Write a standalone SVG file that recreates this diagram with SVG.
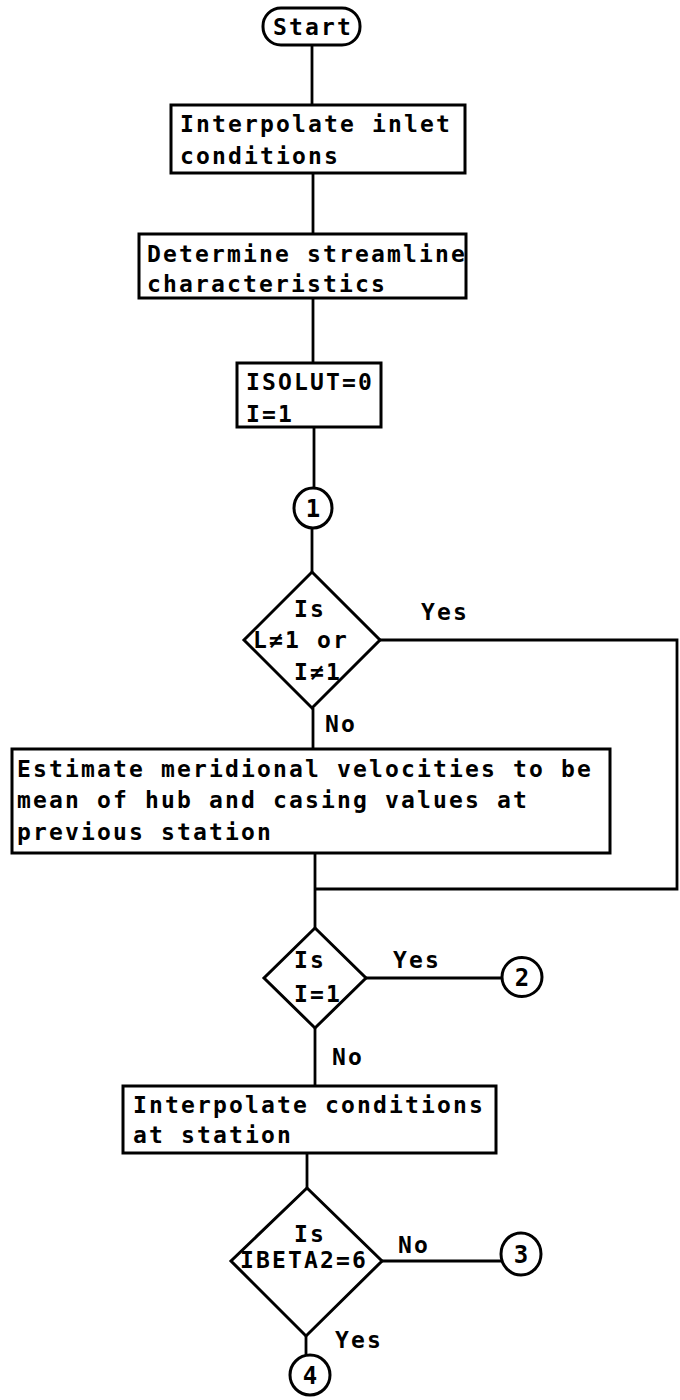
<svg xmlns="http://www.w3.org/2000/svg" width="680" height="1400" viewBox="0 0 680 1400">
<style>
.box{fill:#fff;stroke:#000;stroke-width:3}
.ln{fill:none;stroke:#000;stroke-width:2.8}
.t{font-family:"DejaVu Sans Mono","Liberation Mono",monospace;font-size:23px;font-weight:bold;letter-spacing:2.15px;fill:#000}
.n{font-family:"DejaVu Sans Mono","Liberation Mono",monospace;font-size:24px;font-weight:bold;fill:#000;text-anchor:middle}
</style>
<rect width="680" height="1400" fill="#fff"/>
<g id="connectors">
<path class="ln" d="M312 45 V105"/>
<path class="ln" d="M313 173 V234"/>
<path class="ln" d="M313 298 V363"/>
<path class="ln" d="M314 427 V489"/>
<path class="ln" d="M312 528 V572"/>
<path class="ln" d="M313 708 V749"/>
<path class="ln" d="M379 640 H677 V889 H315"/>
<path class="ln" d="M315 853 V928"/>
<path class="ln" d="M366 978 H502"/>
<path class="ln" d="M315 1028 V1086"/>
<path class="ln" d="M307 1153 V1188"/>
<path class="ln" d="M382 1261 H501"/>
<path class="ln" d="M306 1336 V1355"/>
</g>
<g id="start">
<rect class="box" x="263" y="8" width="97" height="37" rx="18"/>
<text class="t" x="273" y="35">Start</text>
</g>
<g id="interp-inlet">
<rect class="box" x="171" y="105" width="294" height="68"/>
<text class="t" x="180" y="132">Interpolate inlet</text>
<text class="t" x="180" y="164">conditions</text>
</g>
<g id="streamline">
<rect class="box" x="139" y="234" width="327" height="64"/>
<text class="t" x="147" y="262">Determine streamline</text>
<text class="t" x="147" y="292">characteristics</text>
</g>
<g id="init">
<rect class="box" x="237" y="363" width="144" height="64"/>
<text class="t" x="246" y="390">ISOLUT=0</text>
<text class="t" x="246" y="422">I=1</text>
</g>
<g id="c1">
<ellipse class="box" cx="313" cy="508" rx="19" ry="20"/>
<text class="n" x="313" y="517">1</text>
</g>
<g id="d1">
<polygon class="box" points="312,572 380,640 312,708 244,640"/>
<text class="t" x="294" y="617">Is</text>
<text class="t" x="253" y="648">L≠1 or</text>
<text class="t" x="294" y="680">I≠1</text>
<text class="t" x="421" y="620">Yes</text>
<text class="t" x="325" y="732">No</text>
</g>
<g id="estimate">
<rect class="box" x="12" y="749" width="598" height="104"/>
<text class="t" x="17" y="777">Estimate meridional velocities to be</text>
<text class="t" x="17" y="808">mean of hub and casing values at</text>
<text class="t" x="17" y="840">previous station</text>
</g>
<g id="d2">
<polygon class="box" points="315,928 366,978 315,1028 264,978"/>
<text class="t" x="294" y="968">Is</text>
<text class="t" x="294" y="1002">I=1</text>
<text class="t" x="393" y="968">Yes</text>
<text class="t" x="332" y="1065">No</text>
</g>
<g id="c2">
<ellipse class="box" cx="522" cy="977" rx="20" ry="19.5"/>
<text class="n" x="522" y="986">2</text>
</g>
<g id="interp-station">
<rect class="box" x="123" y="1086" width="373" height="67"/>
<text class="t" x="133" y="1113">Interpolate conditions</text>
<text class="t" x="133" y="1143">at station</text>
</g>
<g id="d3">
<polygon class="box" points="307,1188 382,1261 306,1336 231,1261"/>
<text class="t" x="294" y="1242">Is</text>
<text class="t" x="240" y="1268">IBETA2=6</text>
<text class="t" x="398" y="1253">No</text>
<text class="t" x="335" y="1348">Yes</text>
</g>
<g id="c3">
<ellipse class="box" cx="521" cy="1254" rx="20" ry="21"/>
<text class="n" x="521" y="1263">3</text>
</g>
<g id="c4">
<ellipse class="box" cx="310" cy="1375" rx="20" ry="20"/>
<text class="n" x="310" y="1384">4</text>
</g>
</svg>
